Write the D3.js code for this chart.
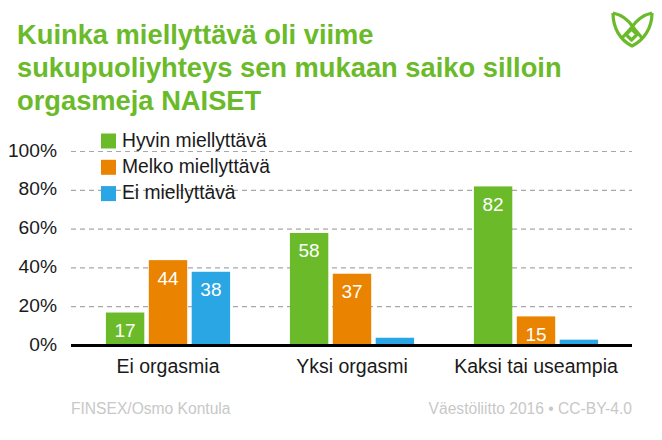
<!DOCTYPE html>
<html>
<head>
<meta charset="utf-8">
<script src="https://cdn.jsdelivr.net/npm/d3@7"></script>
<style>
  html, body { margin: 0; padding: 0; background: #fff; }
  text { font-family: "Liberation Sans", Arial, sans-serif; }
</style>
</head>
<body>
<svg id="chart" width="662" height="440"></svg>
<script>
const series = ["Hyvin miellyttävä", "Melko miellyttävä", "Ei miellyttävä"];
const colors = ["#6aba2a", "#e98300", "#2ba6e4"];
const data = [
  { name: "Ei orgasmia", values: [17, 44, 38], labels: [true, true, true] },
  { name: "Yksi orgasmi", values: [58, 37, 4], labels: [true, true, false] },
  { name: "Kaksi tai useampia", values: [82, 15, 3], labels: [true, true, false] }
];

const svg = d3.select("#chart");

// title
const title = [
  "Kuinka miellyttävä oli viime",
  "sukupuoliyhteys sen mukaan saiko silloin",
  "orgasmeja NAISET"
];
svg.selectAll("text.title").data(title).enter().append("text")
  .attr("class", "title")
  .attr("x", 17)
  .attr("y", (d, i) => 43.5 + i * 33.3)
  .attr("font-size", 27.3)
  .attr("font-weight", "bold")
  .attr("fill", "#6aba2a")
  .text((d) => d);

const y = d3.scaleLinear().domain([0, 100]).range([345.5, 151.5]);
const x0 = d3.scaleBand().domain(data.map((d) => d.name)).range([76, 628])
  .paddingInner(0.325).paddingOuter(0.1625);
const x1 = d3.scaleBand().domain(d3.range(3)).range([0, x0.bandwidth()])
  .paddingInner(0.105);

// gridlines
svg.selectAll("line.grid").data(y.ticks(5).filter((d) => d > 0)).enter().append("line")
  .attr("class", "grid")
  .attr("x1", 71).attr("x2", 632)
  .attr("y1", (d) => y(d)).attr("y2", (d) => y(d))
  .attr("stroke", "#a8a8a8")
  .attr("stroke-width", 1.2)
  .attr("stroke-dasharray", "5 4");

// y axis labels
const yAxis = svg.append("g")
  .attr("transform", "translate(71,-1.5)")
  .call(d3.axisLeft(y).tickValues(d3.range(0, 101, 20)).tickSize(0).tickPadding(14)
    .tickFormat((d) => d + "%"));
yAxis.select(".domain").remove();
yAxis.selectAll("text").attr("font-size", 19.2).attr("fill", "#1a1a1a")
  .style("font-family", '"Liberation Sans", Arial, sans-serif');

// bars
const group = svg.selectAll("g.cat").data(data).enter().append("g")
  .attr("class", "cat")
  .attr("transform", (d) => `translate(${x0(d.name)},0)`);

group.selectAll("rect").data((d) => d.values).enter().append("rect")
  .attr("x", (d, i) => x1(i))
  .attr("y", (d) => y(d))
  .attr("width", x1.bandwidth())
  .attr("height", (d) => y(0) - y(d))
  .attr("fill", (d, i) => colors[i]);

group.selectAll("text").data((d) => d.values.map((v, i) => ({ v, i, show: d.labels[i] })).filter((e) => e.show))
  .enter().append("text")
  .attr("x", (d) => x1(d.i) + x1.bandwidth() / 2)
  .attr("y", (d) => y(d.v) + 24.5)
  .attr("text-anchor", "middle")
  .attr("font-size", 19)
  .attr("fill", "#fff")
  .text((d) => d.v);

// baseline
svg.append("line")
  .attr("x1", 71).attr("x2", 632)
  .attr("y1", y(0)).attr("y2", y(0))
  .attr("stroke", "#000")
  .attr("stroke-width", 3);

// category labels
svg.selectAll("text.cat-label").data(data).enter().append("text")
  .attr("class", "cat-label")
  .attr("x", (d) => x0(d.name) + x0.bandwidth() / 2)
  .attr("y", 373)
  .attr("text-anchor", "middle")
  .attr("font-size", 19.5)
  .attr("fill", "#1a1a1a")
  .text((d) => d.name);

// legend
const legend = svg.selectAll("g.legend").data(series).enter().append("g")
  .attr("class", "legend")
  .attr("transform", (d, i) => `translate(101,${133.5 + i * 26.3})`);
legend.append("rect")
  .attr("width", 15).attr("height", 15)
  .attr("fill", (d, i) => colors[i]);
legend.append("text")
  .attr("x", 21).attr("y", 13)
  .attr("font-size", 19.3)
  .attr("fill", "#1a1a1a")
  .text((d) => d);

// footer
svg.append("text").attr("x", 71).attr("y", 414)
  .attr("font-size", 15.6).attr("fill", "#c8c8c8")
  .text("FINSEX/Osmo Kontula");
svg.append("text").attr("x", 632).attr("y", 414)
  .attr("text-anchor", "end")
  .attr("font-size", 15.6).attr("fill", "#c8c8c8")
  .text("Väestöliitto 2016 • CC-BY-4.0");

// logo
const logo = svg.append("g")
  .attr("fill", "none")
  .attr("stroke", "#6aba2a")
  .attr("stroke-width", 3.2)
  .attr("stroke-linejoin", "round");
logo.append("path").attr("d", "M613,13 C613,28 620,40 632,46 C644,40 652,28 652,13");
logo.append("path").attr("d", "M613,13 C622,15 629,21 633,27 L642,38 M652,13 C643,15 636,21 632,27 L622,38");
logo.append("path").attr("d", "M631.5,29 L637,34.5 L631.5,40 L626,34.5 Z");
</script>
</body>
</html>
